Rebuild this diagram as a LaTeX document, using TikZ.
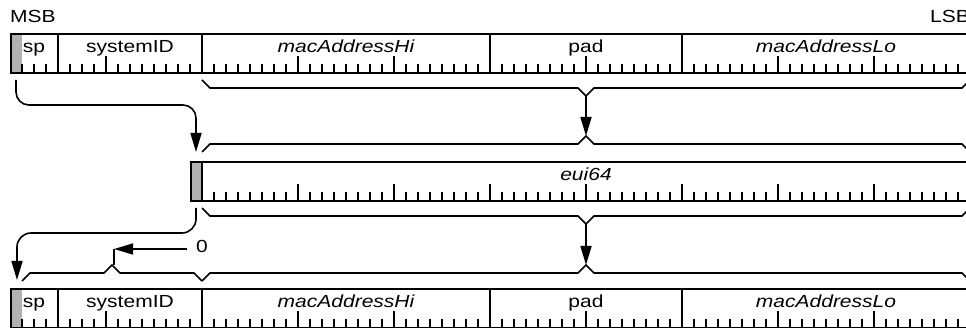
\documentclass[tikz,border=0pt]{standalone}
\usepackage{fontspec}
\setmainfont[FakeStretch=1.2]{Liberation Sans}
\usetikzlibrary{arrows.meta}
\begin{document}
\begin{tikzpicture}[x=1pt,y=-1pt,
  reg/.style={draw, line width=1.6pt, inner sep=0, minimum height=39pt, anchor=north west},
  divider/.style={line width=1.6pt},
  tickmark/.style={line width=1.3pt},
  lbl/.style={inner sep=0, anchor=base, font=\fontsize{17.5}{20}\selectfont},
  ilbl/.style={inner sep=0, anchor=base, font=\fontsize{17.5}{20}\selectfont\itshape},
  bracepath/.style={line width=1.6pt, line join=miter},
  conn/.style={line width=1.6pt, -{Triangle[length=19pt,width=11pt]}},
  plainconn/.style={line width=1.6pt},
  graybit/.style={fill=black!30, draw=none},
]
\useasboundingbox (0,0) rectangle (966,328);
\clip (0,0) rectangle (966,328);

% ---------- labels MSB / LSB
\node[lbl, anchor=base west] (msb) at (10,23) {MSB};
\node[lbl, anchor=base east] (lsb) at (970,23) {LSB};

% ---------- top register
\fill[graybit] (10,33) rectangle (22,72);
\node[reg, minimum width=960pt] (r1) at (10,33) {};
\foreach \k in {1,...,79}{
  \pgfmathtruncatemacro\tl{mod(\k,8)==0 ? 16 : 8}
  \draw[tickmark] (10+12*\k,72) -- ++(0,-\tl);
}
\foreach \x in {58,202,490,682}{\draw[divider] (\x,33) -- (\x,72);}
\node[lbl] (sp1) at (34,53) {sp};
\node[lbl] (sys1) at (130,53) {systemID};
\node[ilbl] (mhi1) at (346,53) {macAddressHi};
\node[lbl] (pad1) at (586,53) {pad};
\node[ilbl] (mlo1) at (826,53) {macAddressLo};

% ---------- eui64 register
\fill[graybit] (190,161) rectangle (202,200);
\node[reg, minimum width=780pt] (r2) at (190,161) {};
\foreach \k in {17,...,79}{
  \pgfmathtruncatemacro\tl{mod(\k,8)==0 ? 16 : 8}
  \draw[tickmark] (10+12*\k,200) -- ++(0,-\tl);
}
\draw[divider] (202,161) -- (202,200);
\node[ilbl] (eui) at (586,181) {eui64};

% ---------- bottom register
\fill[graybit] (10,288) rectangle (22,327);
\node[reg, minimum width=960pt] (r3) at (10,288) {};
\foreach \k in {1,...,79}{
  \pgfmathtruncatemacro\tl{mod(\k,8)==0 ? 16 : 8}
  \draw[tickmark] (10+12*\k,327) -- ++(0,-\tl);
}
\foreach \x in {58,202,490,682}{\draw[divider] (\x,288) -- (\x,327);}
\node[lbl] (sp3) at (34,308) {sp};
\node[lbl] (sys3) at (130,308) {systemID};
\node[ilbl] (mhi3) at (346,308) {macAddressHi};
\node[lbl] (pad3) at (586,308) {pad};
\node[ilbl] (mlo3) at (826,308) {macAddressLo};

% ---------- braces
\coordinate (bA) at (586,96);
\coordinate (bB) at (586,136);
\coordinate (bC) at (586,224);
\coordinate (bD) at (586,265);
\coordinate (bE) at (112,265);
\draw[bracepath] (202,80) -- (210,88) -- (578,88) -- (bA) -- (594,88) -- (962,88) -- (970,80);
\draw[bracepath] (202,152) -- (210,144) -- (578,144) -- (bB) -- (594,144) -- (962,144) -- (970,152);
\draw[bracepath] (202,208) -- (210,216) -- (578,216) -- (bC) -- (594,216) -- (962,216) -- (970,208);
\draw[bracepath] (202,281) -- (210,273) -- (578,273) -- (bD) -- (594,273) -- (962,273) -- (970,281);
\draw[bracepath] (22,281) -- (30,273) -- (104,273) -- (bE) -- (120,273) -- (194,273) -- (202,281);

% ---------- connectors
\draw[conn] (bA) -- (bB);
\draw[conn] (bC) -- (bD);

\coordinate (s1) at (16,80);
\coordinate (e1) at (196,152);
\draw[conn, rounded corners=13pt] (s1) |- (196,105) -- (e1);

\coordinate (s2) at (196,208);
\coordinate (e2) at (17,280);
\draw[conn, rounded corners=14pt] (s2) |- (17,233) -- (e2);

\node[lbl, anchor=center, inner xsep=9pt] (zero) at (202,246) {0};
\coordinate (zc) at (114,249);
\draw[conn] (zero.west |- zc) -- (zc);
\draw[plainconn] (zc) -- (114,265);
\end{tikzpicture}
\end{document}
